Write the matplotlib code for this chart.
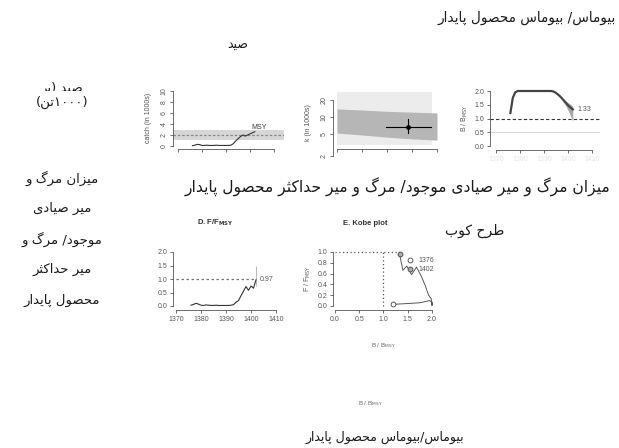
import numpy as np
import matplotlib.pyplot as plt
from matplotlib.lines import Line2D

plt.rcParams['font.family'] = ['Liberation Sans', 'DejaVu Sans']

W, H = 619, 448

# data
years = list(range(1376, 1403))
catch = [0.05, 0.15, 0.3, 0.25, 0.1, 0.1, 0.15, 0.1, 0.1, 0.1, 0.15, 0.1, 0.1, 0.1,
         0.1, 0.1, 0.15, 0.4, 0.9, 1.3, 1.7, 2.0, 1.8, 2.0, 2.2, 2.4, 2.6]
msy = 2.0
msy_band = (1.1, 2.9)

r_grid = [0.2, 0.4, 0.6, 0.8, 1.0]
k_hi = [13.9, 13.3, 12.6, 12.2, 11.8]
k_lo = [5.2, 4.8, 4.4, 4.1, 3.9]
r_prior = (0.2, 0.96)
k_prior = (3.2, 27.6)
r_best, r_ci = 0.77, (0.59, 0.95)
k_best, k_ci = 6.7, (5.2, 9.2)

bbmsy = [1.2, 1.75, 1.95, 2.0, 2.0, 2.0, 2.0, 2.0, 2.0, 2.0, 2.0, 2.0, 2.0, 2.0,
         2.0, 2.0, 2.0, 2.0, 1.98, 1.93, 1.86, 1.78, 1.68, 1.58, 1.48, 1.4, 1.33]
b_ci_years = [1398, 1399, 1400, 1401, 1402]
b_ci_hi = [1.72, 1.65, 1.58, 1.52, 1.45]
b_ci_lo = [1.6, 1.48, 1.3, 1.1, 0.9]

ffmsy = [0.03, 0.06, 0.1, 0.07, 0.03, 0.02, 0.04, 0.03, 0.02, 0.02, 0.03, 0.02, 0.02, 0.02,
         0.02, 0.02, 0.03, 0.05, 0.14, 0.2, 0.38, 0.55, 0.72, 0.58, 0.74, 0.66, 0.97]
f_ci_last = (0.75, 1.5)

year_ticks = [1370, 1380, 1390, 1400, 1410]

# persian letters -> (isolated, final, initial, medial)
FORMS = {
    'ا': (0xFE8D, 0xFE8E, None, None), 'ب': (0xFE8F, 0xFE90, 0xFE91, 0xFE92),
    'پ': (0xFB56, 0xFB57, 0xFB58, 0xFB59), 'ت': (0xFE95, 0xFE96, 0xFE97, 0xFE98),
    'ث': (0xFE99, 0xFE9A, 0xFE9B, 0xFE9C), 'ج': (0xFE9D, 0xFE9E, 0xFE9F, 0xFEA0),
    'ح': (0xFEA1, 0xFEA2, 0xFEA3, 0xFEA4), 'د': (0xFEA9, 0xFEAA, None, None),
    'ر': (0xFEAD, 0xFEAE, None, None), 'ز': (0xFEAF, 0xFEB0, None, None),
    'س': (0xFEB1, 0xFEB2, 0xFEB3, 0xFEB4), 'ص': (0xFEB9, 0xFEBA, 0xFEBB, 0xFEBC),
    'ط': (0xFEC1, 0xFEC2, 0xFEC3, 0xFEC4), 'ک': (0xFB8E, 0xFB8F, 0xFB90, 0xFB91),
    'گ': (0xFB92, 0xFB93, 0xFB94, 0xFB95), 'ل': (0xFEDD, 0xFEDE, 0xFEDF, 0xFEE0),
    'م': (0xFEE1, 0xFEE2, 0xFEE3, 0xFEE4), 'ن': (0xFEE5, 0xFEE6, 0xFEE7, 0xFEE8),
    'و': (0xFEED, 0xFEEE, None, None), 'ی': (0xFBFC, 0xFBFD, 0xFBFE, 0xFBFF),
    'ه': (0xFEE9, 0xFEEA, 0xFEEB, 0xFEEC),
}
DIGITS = '۰۱۲۳۴۵۶۷۸۹0123456789'


def fa(text):
    out = []
    for i, ch in enumerate(text):
        if ch not in FORMS:
            out.append(ch)
            continue
        prev = text[i - 1] if i > 0 else ''
        nxt = text[i + 1] if i + 1 < len(text) else ''
        jp = prev in FORMS and FORMS[prev][2] is not None
        jn = nxt in FORMS and FORMS[ch][2] is not None
        f = FORMS[ch]
        g = f[3] if (jp and jn) else f[1] if jp else f[2] if jn else f[0]
        out.append(chr(g))
    vis = out[::-1]
    res, run = [], []
    for ch in vis + ['']:
        if ch and ch in DIGITS:
            run.append(ch)
            continue
        res.extend(run[::-1])
        run = []
        res.append({'(': ')', ')': '('}.get(ch, ch))
    return ''.join(res)


fig = plt.figure(figsize=(W / 100, H / 100), dpi=100)


def panel(x0, x1, y0, y1):
    return fig.add_axes([x0 / W, 1 - y1 / H, (x1 - x0) / W, (y1 - y0) / H])


def lims(e0, e1, pa, va, pb, vb):
    k = (vb - va) / (pb - pa)
    return va + (e0 - pa) * k, va + (e1 - pa) * k


def r_style(ax, xb, yb):
    ax.spines['top'].set_visible(False)
    ax.spines['right'].set_visible(False)
    for s in ['left', 'bottom']:
        ax.spines[s].set_linewidth(0.6)
        ax.spines[s].set_color('#555555')
    ax.spines['left'].set_bounds(*yb)
    ax.spines['bottom'].set_bounds(*xb)
    ax.patch.set_alpha(0)
    ax.tick_params(length=2.5, width=0.6, labelsize=5, colors='#555555', pad=1.5)


def ftxt(x, y, s, **kw):
    fig.text(x / W, 1 - y / H, s, ha='center', va='center', **kw)


lab = dict(fontsize=5, color='#555555')

# A. catch
axA = panel(173, 284, 86, 149)
axA.set_xlim(lims(173, 284, 178, 1370, 274, 1410))
axA.set_ylim(lims(149, 86, 146, 0, 91, 10))
axA.axhspan(*msy_band, color='#d6d6d6', lw=0)
axA.axhline(msy, ls=(0, (2, 1.5)), color='#888888', lw=0.9)
axA.plot(years, catch, color='#333333', lw=0.8)
axA.text(1400.5, 3.1, 'MSY', fontsize=5, color='#333333')
axA.set_xticks(year_ticks)
axA.set_yticks(range(0, 11, 2))
r_style(axA, (1370, 1410), (0, 10))
axA.tick_params(axis='x', labelbottom=False)
axA.tick_params(axis='y', labelrotation=90)
for t in axA.get_yticklabels():
    t.set_va('center')
axA.set_ylabel('catch (in 1000s)', labelpad=6, **lab)

# B. viable r-k
axB = panel(333, 440, 88, 158)
axB.set_yscale('log')
ly = lims(158, 88, 100, np.log10(20), 134, np.log10(5))
axB.set_ylim(10 ** ly[0], 10 ** ly[1])
axB.set_xlim(lims(333, 440, 337, 0.2, 437, 1.0))
axB.fill_between(r_prior, k_prior[0], k_prior[1], color='#ececec', lw=0)
axB.fill_between(r_grid, k_lo, k_hi, color='#b6b6b6', lw=0)
axB.plot(r_ci, [k_best, k_best], color='black', lw=0.8)
axB.plot([r_best, r_best], k_ci, color='black', lw=0.8)
axB.plot(r_best, k_best, 'o', color='black', ms=2.5)
axB.set_yticks([2, 5, 10, 20])
axB.set_yticklabels(['2', '5', '10', '20'])
axB.yaxis.set_minor_locator(plt.NullLocator())
axB.set_xticks(r_grid)
r_style(axB, (0.2, 1.0), (2, 20))
axB.spines['bottom'].set_position(('data', 10 ** lims(149, 149, 100, np.log10(20), 134, np.log10(5))[0]))
axB.tick_params(axis='x', labelbottom=False)
axB.tick_params(axis='y', labelrotation=90)
for t in axB.get_yticklabels():
    t.set_va('center')
axB.set_ylabel('k (in 1000s)', labelpad=6, **lab)

# C. B/Bmsy
axC = panel(490, 600, 86, 150)
axC.set_xlim(lims(490, 600, 496, 1370, 592, 1410))
axC.set_ylim(lims(150, 86, 146, 0, 91, 2))
axC.fill_between(b_ci_years, b_ci_lo, b_ci_hi, color='#a8a8a8', lw=0)
axC.axhline(1.0, ls=(0, (3, 2)), color='#333333', lw=0.8)
axC.axhline(0.5, color='#cccccc', lw=0.6)
axC.plot(years, bbmsy, color='#444444', lw=1.6)
axC.text(1404, bbmsy[-1], '%.2f' % bbmsy[-1], fontsize=5, va='center', color='#555555')
axC.set_xticks(year_ticks)
axC.set_yticks([0, 0.5, 1.0, 1.5, 2.0])
axC.set_yticklabels(['0.0', '0.5', '1.0', '1.5', '2.0'])
r_style(axC, (1370, 1410), (0, 2))
axC.tick_params(axis='x', labelcolor='#e6e6e6')
axC.set_ylabel('B / B$_{\\mathrm{MSY}}$', labelpad=3, **lab)

# D. F/Fmsy
axD = panel(173, 284, 248, 310)
axD.set_xlim(lims(173, 284, 176, 1370, 276, 1410))
axD.set_ylim(lims(310, 248, 306, 0, 252, 2))
axD.hlines(1.0, year_ticks[0], years[-1], ls=(0, (2, 2)), color='#777777', lw=0.9)
axD.vlines(years[-1], *f_ci_last, color='#bbbbbb', lw=0.8)
axD.plot(years, ffmsy, color='#333333', lw=0.8)
axD.text(1403.5, ffmsy[-1], '%.2f' % ffmsy[-1], fontsize=5, va='center', color='#555555')
axD.set_xticks(year_ticks)
axD.set_yticks([0, 0.5, 1.0, 1.5, 2.0])
axD.set_yticklabels(['0.0', '0.5', '1.0', '1.5', '2.0'])
r_style(axD, (1370, 1410), (0, 2))
ftxt(215, 223, 'D. F/F$_{\\mathbf{MSY}}$', fontsize=5.5, fontweight='bold', color='#333333')

# E. Kobe plot
axE = panel(333, 440, 248, 310)
axE.set_xlim(lims(333, 440, 335, 0, 432, 2))
axE.set_ylim(lims(310, 248, 306, 0, 252, 1))
axE.hlines(1.0, 0, bbmsy[-1], ls=(0, (1, 2)), color='#555555', lw=0.9)
axE.vlines(1.0, 0, 1.0, ls=(0, (1, 2)), color='#555555', lw=0.9)
axE.plot(bbmsy, ffmsy, color='#555555', lw=0.7)
axE.plot(bbmsy[0], ffmsy[0], 'o', mfc='white', mec='#444444', ms=3.5, mew=0.6)
axE.plot(bbmsy[-1], ffmsy[-1], 'o', mfc='#aaaaaa', mec='#444444', ms=3.5, mew=0.6)
hd = [Line2D([], [], ls='', marker='o', mfc='white', mec='#444444', ms=3.5, mew=0.6),
      Line2D([], [], ls='', marker='o', mfc='#aaaaaa', mec='#444444', ms=3.5, mew=0.6)]
axE.legend(hd, [str(years[0]), str(years[-1])], loc='upper left', bbox_to_anchor=(1.4, 0.9),
           bbox_transform=axE.transData, frameon=False, fontsize=5, handletextpad=0.2,
           borderaxespad=0, borderpad=0, labelspacing=0.3, labelcolor='#555555')
axE.set_xticks([0, 0.5, 1.0, 1.5, 2.0])
axE.set_xticklabels(['0.0', '0.5', '1.0', '1.5', '2.0'])
axE.set_yticks([0, 0.2, 0.4, 0.6, 0.8, 1.0])
axE.set_yticklabels(['0.0', '0.2', '0.4', '0.6', '0.8', '1.0'])
r_style(axE, (0, 2), (0, 1))
axE.set_ylabel('F / F$_{\\mathrm{MSY}}$', labelpad=3, **lab)
ftxt(365, 223, 'E. Kobe plot', fontsize=5.5, fontweight='bold', color='#333333')
ftxt(383, 346, 'B / B$_{\\mathrm{MSY}}$', fontsize=4.5, color='#666666')
ftxt(370, 404, 'B / B$_{\\mathrm{MSY}}$', fontsize=4.5, color='#666666')

# persian captions
pf = dict(family='DejaVu Sans', color='#1a1a1a')
ftxt(527, 18, fa('بیوماس/ بیوماس محصول پایدار'), fontsize=9.8, **pf)
ftxt(238, 44, fa('صید'), fontsize=9, **pf)
ftxt(398, 187, fa('میزان مرگ و میر صیادی موجود/ مرگ و میر حداکثر محصول پایدار'), fontsize=11.2, **pf)
ftxt(475, 231, fa('طرح کوب'), fontsize=10, **pf)
ftxt(385, 437, fa('بیوماس/بیوماس محصول پایدار'), fontsize=9, **pf)

clip = panel(0, 140, 78, 91)
clip.axis('off')
clip.text(0.44, 0.2, fa('صید (بر'), transform=clip.transAxes, ha='center', va='center',
          fontsize=9.5, clip_on=True, **pf)
ftxt(62, 102, fa('(۱۰۰۰تن)'), fontsize=9.5, **pf)
left_lines = ['میزان مرگ و', 'میر صیادی', 'موجود/ مرگ و', 'میر حداکثر', 'محصول پایدار']
for i, s in enumerate(left_lines):
    ftxt(62, 178 + 30.5 * i, fa(s), fontsize=9.5, **pf)

fig.savefig('out.png', dpi=100)
